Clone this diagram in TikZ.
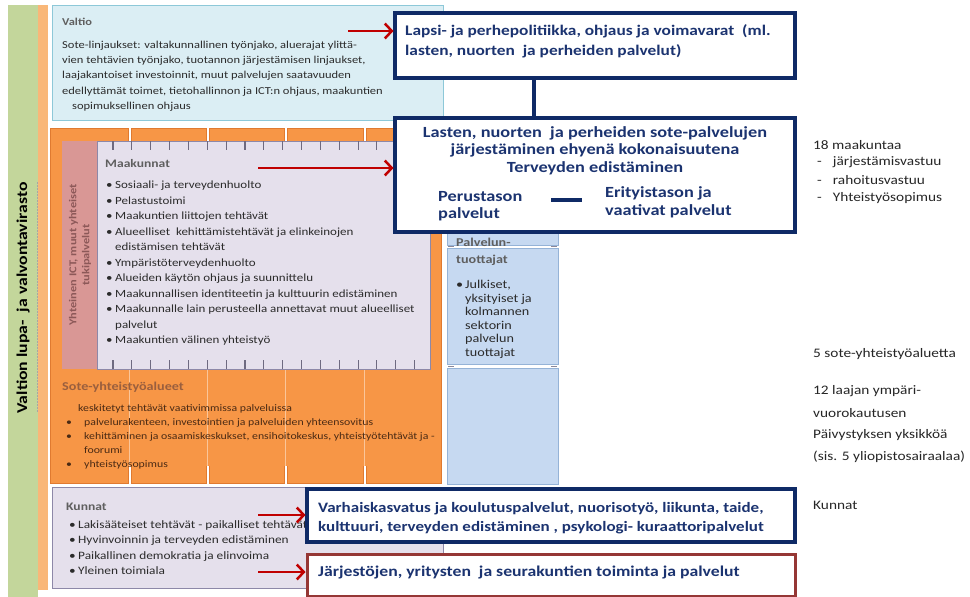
\documentclass[tikz,border=0pt]{standalone}
\usepackage{fontspec}
\setmainfont{Carlito}[FakeStretch=1.18]
\usetikzlibrary{arrows.meta}
\definecolor{vgreen}{HTML}{C3D69B}
\definecolor{lorange}{HTML}{F9B778}
\definecolor{orng}{HTML}{F79646}
\definecolor{orngdark}{HTML}{E07A30}
\definecolor{valfill}{HTML}{DBEEF4}
\definecolor{valdraw}{HTML}{8DC8D8}
\definecolor{lav}{HTML}{E5E0EC}
\definecolor{lavdraw}{HTML}{8D88A8}
\definecolor{pinkish}{HTML}{D99795}
\definecolor{pinktext}{HTML}{8C5858}
\definecolor{bluecol}{HTML}{C6D9F1}
\definecolor{bluedraw}{HTML}{95B3D7}
\definecolor{navy}{HTML}{0F2A66}
\definecolor{navytext}{HTML}{1B3370}
\definecolor{arrowred}{HTML}{C00000}
\definecolor{brownred}{HTML}{953735}
\definecolor{titlegray}{HTML}{5F5F5F}
\definecolor{bodytext}{HTML}{2B2B2B}
\definecolor{sotetitle}{HTML}{9A5F3E}
\definecolor{sotetext}{HTML}{4A2A14}
\definecolor{tickc}{HTML}{6E6A80}
\newcommand{\bul}{\makebox[9pt][l]{\textbullet}}
\newcommand{\bulind}{\hspace*{9pt}}
\newcommand{\sbul}{\makebox[18pt][l]{\textbullet}}
\newcommand{\sbulind}{\hspace*{18pt}}
\tikzset{
  areabox/.style={anchor=north west, inner sep=0, outer sep=0},
  navybox/.style={areabox, draw=navy, line width=3.5pt, fill=white},
  lbl/.style={anchor=north west, inner sep=0, align=left},
  bigtxt/.style={font=\bfseries\fontsize{14.7}{20}\selectfont, text=navytext},
  smalltxt/.style={font=\fontsize{11}{15.5}\selectfont, text=bodytext},
  titletxt/.style={font=\bfseries\fontsize{11.5}{14}\selectfont, text=titlegray},
  sidetxt/.style={anchor=west, inner sep=0, font=\fontsize{13}{15}\selectfont, text=black!85},
  redarrow/.style={draw=arrowred, line width=2.5pt, shorten >=1.5pt, -{Straight Barb[length=7pt,width=15pt]}},
  navyline/.style={draw=navy, line width=3.5pt}
}
\begin{document}
\begin{tikzpicture}[x=1pt,y=-1pt]
\useasboundingbox (0,0) rectangle (970,597);
\fill[white] (0,0) rectangle (970,597);
% left bars
\fill[vgreen] (8,5) rectangle (38,597);
\fill[lorange] (38,5) rectangle (48,590);
\draw[gray!70, line width=0.6pt, dash pattern=on 2pt off 1pt] (37,182) -- (37,412);
\node[rotate=90, font=\bfseries\fontsize{15}{18}\selectfont, text=black] (vlabel) at (23,298) {Valtion lupa-\ \ ja valvontavirasto};
% Valtio
\draw[fill=valfill, draw=valdraw, line width=0.8pt] (52,5) rectangle (443,120);
\node[lbl, titletxt, font=\bfseries\fontsize{10.5}{13}\selectfont] (valtiot) at (62,18) {Valtio};
\node[lbl, smalltxt, font=\fontsize{10.6}{15.2}\selectfont] (valtiob) at (62,41) {Sote-linjaukset: valtakunnallinen työnjako, aluerajat ylittä-\\vien tehtävien työnjako, tuotannon järjestämisen linjaukset,\\laajakantoiset investoinnit, muut palvelujen saatavuuden\\edellyttämät toimet, tietohallinnon ja ICT:n ohjaus, maakuntien\\\hspace*{10pt}sopimuksellinen ohjaus};
% orange columns
\foreach \a/\b in {50/128,131/206,209/284,287/363,366/441}
  \draw[fill=orng, draw=orngdark, line width=0.7pt] (\a,128) rectangle (\b,483);
\fill[orng] (51,141) rectangle (440,466);
\foreach \x in {129.5,207.5,285.5,364.5}
  \draw[white, opacity=0.45, line width=1.2pt] (\x,369) -- (\x,466);
% pink + lavender
\fill[pinkish] (62,141) rectangle (97,369);
\draw[fill=lav, draw=lavdraw, line width=0.7pt] (97,141) rectangle (430,369);
\foreach \i in {0,...,16} {
  \draw[tickc, line width=1.1pt] ({113+\i*18.85},141) -- ++(0,9);
  \draw[tickc, line width=1.1pt] ({113+\i*18.85},369) -- ++(0,-9);
}
\node[rotate=90, align=center, font=\bfseries\fontsize{10.5}{13}\selectfont, text=pinktext] (ict) at (80,255) {Yhteinen ICT, muut yhteiset\\tukipalvelut};
\node[lbl, titletxt] (maakt) at (105,159) {Maakunnat};
\node[lbl, smalltxt] (maakb) at (106,181) {\bul Sosiaali- ja terveydenhuolto\\\bul Pelastustoimi\\\bul Maakuntien liittojen tehtävät\\\bul Alueelliset\ \ kehittämistehtävät ja elinkeinojen\\\bulind edistämisen tehtävät\\\bul Ympäristöterveydenhuolto\\\bul Alueiden käytön ohjaus ja suunnittelu\\\bul Maakunnallisen identiteetin ja kulttuurin edistäminen\\\bul Maakunnalle lain perusteella annettavat muut alueelliset\\\bulind palvelut\\\bul Maakuntien välinen yhteistyö};
% Sote-yhteistyoalueet
\node[lbl, font=\bfseries\fontsize{12}{14}\selectfont, text=sotetitle] (sotet) at (62,382) {Sote-yhteistyöalueet};
\node[lbl, font=\fontsize{10}{14}\selectfont, text=sotetext] (soteb) at (66,404) {\hspace*{12pt}keskitetyt tehtävät vaativimmissa palveluissa\\\sbul palvelurakenteen, investointien ja palveluiden yhteensovitus\\\sbul kehittäminen ja osaamiskeskukset, ensihoitokeskus, yhteistyötehtävät ja -\\\sbulind foorumi\\\sbul yhteistyösopimus};
% Palvelun tuottajat column
\foreach \a/\b in {225/245,248/364,368/484}
  \draw[fill=bluecol, draw=bluedraw, line width=0.7pt] (447,\a) rectangle (558,\b);
\foreach \g in {246.5,366}{
  \draw[tickc!80, line width=1pt] (448,\g) -- (454,\g);
  \draw[tickc!80, line width=1pt] (551,\g) -- (557,\g);
}
\node[lbl, font=\bfseries\fontsize{12}{17}\selectfont, text=titlegray] (palvt) at (456,238) {Palvelun-\\tuottajat};
\node[lbl, font=\fontsize{12}{13.6}\selectfont, text=bodytext] (palvb) at (456,280) {\bul Julkiset,\\\bulind yksityiset ja\\\bulind kolmannen\\\bulind sektorin\\\bulind palvelun\\\bulind tuottajat};
% Kunnat
\draw[fill=lav, draw=lavdraw, line width=0.8pt] (52,487) rectangle (443,588);
\node[lbl, titletxt] (kunt) at (66,503) {Kunnat};
\node[lbl, smalltxt, font=\fontsize{11.3}{15.5}\selectfont] (kunb) at (69,520) {\bul Lakisääteiset tehtävät - paikalliset tehtävät\\\bul Hyvinvoinnin ja terveyden edistäminen\\\bul Paikallinen demokratia ja elinvoima\\\bul Yleinen toimiala};
% navy boxes
\node[navybox, minimum width=400, minimum height=65] (lapsi) at (395,13) {};
\node[lbl, bigtxt] (lapsit) at (405,24) {Lapsi- ja perhepolitiikka, ohjaus ja voimavarat\ \ (ml.\\lasten, nuorten\ \ ja perheiden palvelut)};
\node[navybox, minimum width=400, minimum height=114] (lasten) at (395,118) {};
\draw[navyline] ([xshift=-61pt]lapsi.south) -- ([xshift=-61pt]lasten.north);
\node[anchor=north, inner sep=0, align=center, bigtxt, font=\bfseries\fontsize{15.5}{17.5}\selectfont] (lastent) at (595,126) {Lasten, nuorten\ \ ja perheiden sote-palvelujen\\järjestäminen ehyenä kokonaisuutena\\Terveyden edistäminen};
\node[lbl, font=\bfseries\fontsize{15.5}{17.5}\selectfont, text=navytext] (perus) at (438,191) {Perustason\\palvelut};
\node[lbl, font=\bfseries\fontsize{15.5}{18}\selectfont, text=navytext] (erity) at (605,186) {Erityistason ja\\vaativat palvelut};
\coordinate (dashL) at (551,200);
\coordinate (dashR) at (582,200);
\draw[navy, line width=4pt] (dashL) -- (dashR);
\node[navybox, minimum width=488, minimum height=53] (varh) at (307,489) {};
\node[lbl, bigtxt, font=\bfseries\fontsize{14.4}{19.5}\selectfont] (varht) at (318,502) {Varhaiskasvatus ja koulutuspalvelut, nuorisotyö, liikunta, taide,\\kulttuuri, terveyden edistäminen , psykologi- kuraattoripalvelut};
\node[areabox, draw=brownred, line width=3pt, fill=white, minimum width=488, minimum height=42] (jarj) at (307,554) {};
\node[lbl, bigtxt, font=\bfseries\fontsize{15}{18}\selectfont] (jarjt) at (318,566) {Järjestöjen, yritysten\ \ ja seurakuntien toiminta ja palvelut};
% red arrows
\coordinate (a1) at (348,31);
\coordinate (a2) at (258,168);
\coordinate (a3) at (258,515);
\coordinate (a4) at (258,572);
\draw[redarrow] (a1) -- (a1 -| lapsi.west);
\draw[redarrow] (a2) -- (a2 -| lasten.west);
\draw[redarrow] (a3) -- (a3 -| varh.west);
\draw[redarrow] (a4) -- (a4 -| jarj.west);
% right side texts
\node[sidetxt] (r1) at (813,145) {18 maakuntaa};
\node[sidetxt] (r2) at (817,162) {-\hspace{11pt}järjestämisvastuu};
\node[sidetxt] (r3) at (817,180) {-\hspace{11pt}rahoitusvastuu};
\node[sidetxt] (r4) at (817,198) {-\hspace{11pt}Yhteistyösopimus};
\node[sidetxt] (r5) at (813,354) {5 sote-yhteistyöaluetta};
\node[sidetxt] (r6) at (813,391) {12 laajan ympäri-};
\node[sidetxt] (r7) at (813,413) {vuorokautusen};
\node[sidetxt] (r8) at (813,435) {Päivystyksen yksikköä};
\node[sidetxt] (r9) at (813,457) {(sis. 5 yliopistosairaalaa)};
\node[sidetxt] (r10) at (813,505) {Kunnat};
\end{tikzpicture}
\end{document}
